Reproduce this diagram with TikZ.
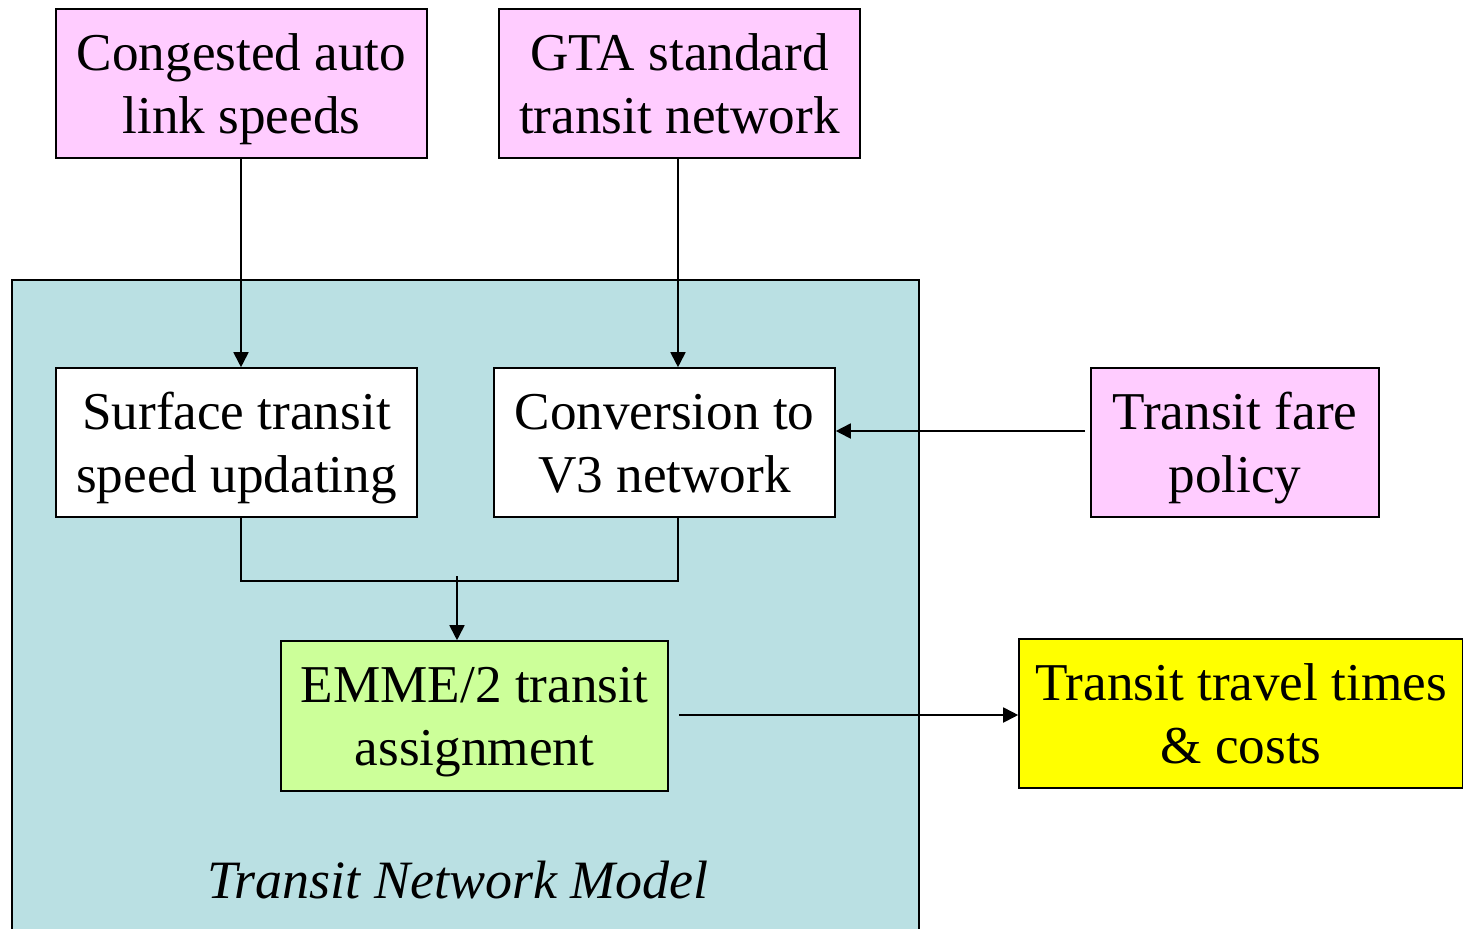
\documentclass[tikz,border=0pt]{standalone}
\usepackage{fontspec}
\setmainfont{Liberation Serif}
\usetikzlibrary{arrows.meta}
\definecolor{pinkbox}{HTML}{FFCCFF}
\definecolor{tealbox}{HTML}{BAE0E3}
\definecolor{greenbox}{HTML}{CCFF99}
\definecolor{yellowbox}{HTML}{FFFF00}
\newcommand{\twolines}[2]{\strut #1\\#2\strut}
\tikzset{
  box/.style={draw=black, line width=0.8pt, inner sep=0pt},
  lbl/.style={align=center, inner sep=0pt, yshift=-2.7pt,
    font=\fontsize{26.6}{31.5}\selectfont},
  arr/.style={line width=0.9pt, -{Triangle[length=7.5pt,width=7.5pt]}},
  conn/.style={line width=0.9pt},
}
\begin{document}
\begin{tikzpicture}[x=0.5pt,y=-0.5pt]
\useasboundingbox (0,0) rectangle (1463,928);
% outer model box
\draw[fill=tealbox, line width=0.8pt] (12,940) -- (12,280) -- (919,280) -- (919,940);
\node[font=\fontsize{27}{32}\selectfont\itshape] (tnm) at (458,880) {Transit Network Model};
% boxes
\node[box, fill=pinkbox, minimum width=185.5pt, minimum height=74.5pt,
  label={[lbl]center:{\twolines{Congested auto}{link speeds}}}] (cong) at (241.5,83.5) {};
\node[box, fill=pinkbox, minimum width=180.5pt, minimum height=74.5pt,
  label={[lbl]center:{\twolines{GTA standard}{transit network}}}] (gta) at (679.5,83.5) {};
\node[box, fill=white, minimum width=180.5pt, minimum height=74.5pt,
  label={[lbl]center:{\twolines{Surface transit}{speed updating}}}] (surf) at (236.5,442.5) {};
\node[box, fill=white, minimum width=170.5pt, minimum height=74.5pt,
  label={[lbl]center:{\twolines{Conversion to}{V3 network}}}] (conv) at (664.5,442.5) {};
\node[box, fill=pinkbox, minimum width=144pt, minimum height=74.5pt,
  label={[lbl]center:{\twolines{Transit fare}{policy}}}] (fare) at (1235,442.5) {};
\node[box, fill=greenbox, minimum width=193.5pt, minimum height=75pt,
  label={[lbl]center:{\twolines{EMME/2 transit}{assignment}}}] (emme) at (474.5,716) {};
\node[box, fill=yellowbox, minimum width=222pt, minimum height=74.5pt,
  label={[lbl]center:{\twolines{Transit travel times}{\& costs}}}] (times) at (1241,713.5) {};
% connectors
\coordinate (cx) at ([xshift=-0.25pt]cong.south);
\coordinate (gx) at ([xshift=-0.75pt]gta.south);
\draw[arr] (cx) -- (cx |- surf.north);
\draw[arr] (gx) -- (gx |- conv.north);
\coordinate (fs) at ([xshift=-2.5pt,yshift=5.75pt]fare.west);
\draw[arr] (fs) -- (fs -| conv.east);
\draw[conn] (cx |- surf.south) -- ++(0,63) -| (gx |- conv.south);
\coordinate (j) at (457,576);
\draw[arr] (j) -- (j |- emme.north);
\coordinate (es) at ([xshift=5pt,yshift=0.5pt]emme.east);
\draw[arr] (es) -- (es -| times.west);
\end{tikzpicture}
\end{document}
